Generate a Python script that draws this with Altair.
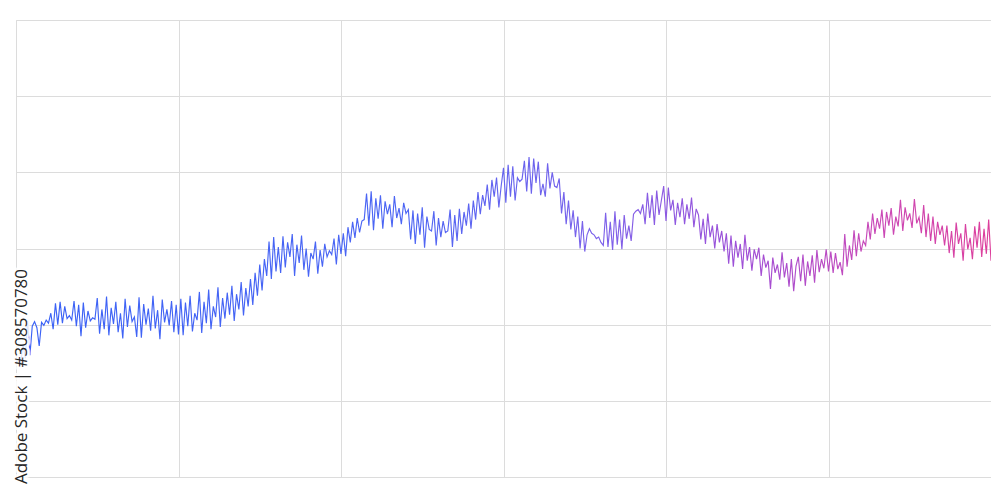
import altair as alt
import pandas as pd

seg_a = [15.0, 15.5, 14.8, 17.5, 15.6, 20.5, 16.0, 19.8, 20.4, 19.6, 17.2, 20.3, 19.9, 20.6, 20.2, 21.5, 19.4, 22.8, 20.0,
         23.0, 20.2, 22.4, 20.8, 21.2, 20.6, 23.1, 19.8, 22.6, 18.5, 22.9, 19.6, 21.8, 20.5, 20.9, 20.7, 23.5, 18.8, 22.0, 19.4,
         23.7, 18.6, 22.2, 20.1, 23.0, 19.0, 21.5, 18.2, 23.4, 19.7, 22.5, 20.4, 21.0, 18.4, 23.6, 18.3, 22.7, 20.0, 22.1, 19.2,
         23.8, 19.5, 21.9, 18.1, 23.3, 20.3, 22.0, 19.9, 23.1, 19.0, 22.6, 18.7]
seg_b = [23.4, 18.6, 22.9, 19.8, 23.8, 19.1, 21.5, 20.6, 24.3, 18.9, 23.0, 20.2, 24.6, 19.4, 22.4, 21.0, 24.9, 19.7, 23.5, 20.8,
         24.2, 21.3, 25.1, 20.5, 24.0, 22.0, 25.6, 21.2, 24.8, 22.4,
         26.0, 22.6, 26.8, 23.8, 27.9, 24.5, 28.6, 26.4, 30.9, 26.0, 31.5,
         27.0, 30.2, 26.8, 31.6, 27.5, 30.8, 28.9, 31.9, 26.4, 30.5, 28.1, 31.7, 27.2, 30.0, 26.3, 29.4, 28.6, 30.9, 26.7, 29.8,
         27.6, 30.6, 28.9, 29.7, 29.2, 31.3, 27.9, 31.8]
seg_c = [29.3, 32.0, 29.0, 32.8, 30.8, 33.5, 31.4, 34.0, 32.1, 33.6, 33.8,
         37.2, 33.0, 37.5, 32.4, 36.6, 33.9, 37.0, 32.6, 36.2, 34.5, 35.8, 32.8, 36.9, 34.0, 35.3, 33.2, 36.0, 34.6, 35.1,
         31.2, 35.0, 30.6, 34.6, 31.8, 35.4, 30.1, 34.2, 32.5, 32.3, 34.9, 30.4, 34.0, 31.5, 33.6, 32.1, 32.3, 35.1, 30.2, 34.4, 31.0,
         35.2, 31.9, 34.8, 33.0, 35.9, 32.6, 36.3, 33.8, 37.4, 34.5, 37.0, 35.6, 38.4, 35.1, 39.0, 36.8, 39.3, 35.4, 38.2]
seg_d = [40.6, 36.0, 41.0, 36.8, 40.8, 36.3, 39.3, 38.8, 39.1, 41.5, 37.5, 42.0, 37.2, 41.8, 38.6, 41.4, 37.0,
         38.5, 36.8, 41.2, 37.9, 40.0, 38.2, 38.0,
         39.2, 34.6, 37.4, 33.2, 36.3, 32.5, 35.0, 31.5, 34.2, 30.0, 33.6, 29.6, 31.8,
         32.6, 32.0, 31.8, 31.3, 31.5, 30.8, 30.4,
         34.7, 30.2, 33.5, 29.8, 34.9, 30.5, 33.8, 29.9, 34.4, 31.3, 33.0, 31.0,
         34.5, 34.9, 35.1, 34.6, 35.8, 33.2, 37.3, 34.0, 37.0, 33.1, 37.6, 34.4, 36.3]
seg_e = [38.2, 33.6, 38.0, 35.0, 36.4, 33.1, 36.0, 34.1, 36.6, 33.2, 35.8, 33.9, 36.7, 32.8, 35.2,
         34.4, 31.2, 33.9, 30.6, 34.6, 31.5, 33.0, 30.0, 33.2, 30.8, 32.3, 29.6, 32.0,
         28.0, 31.7, 27.6, 31.0, 28.8, 30.6, 27.3, 31.8, 28.4, 30.2, 27.1, 29.9, 28.6,
         30.1, 26.4, 29.2, 27.5, 28.4, 24.7, 28.8, 26.8, 27.9, 25.9, 29.5, 26.2, 28.1, 25.0, 28.6, 24.4, 27.7,
         28.9, 25.7, 29.2, 25.1, 28.3, 26.4, 29.1, 25.5, 29.8, 26.9, 28.6, 27.4, 29.9]
seg_f = [27.0, 29.6, 26.8, 29.4, 27.3, 28.2, 26.5,
         31.9, 27.6, 30.4, 28.5, 32.4, 29.0, 32.0, 29.6, 31.0, 30.4, 33.5,
         31.2, 34.6, 31.9, 34.0, 32.6, 35.1, 31.4, 34.8, 33.0, 35.3, 31.8, 34.2, 32.9, 36.4, 32.3, 35.4, 33.7, 34.6,
         32.7, 36.5, 33.3, 34.1, 32.0, 35.7,
         31.5, 34.6, 31.0, 34.2, 30.6, 33.5, 31.8, 33.0, 30.4,
         33.0, 29.4, 32.3, 28.8, 33.4, 30.6, 32.0, 28.4, 33.2, 29.9, 31.4, 28.6, 32.9, 30.1, 33.5, 28.9, 32.6, 29.3, 33.8, 28.4]

values = seg_a + seg_b + seg_c + seg_d + seg_e + seg_f
n = len(values)
df = pd.DataFrame({"t": list(range(n)), "v": values})

x_ticks = [i * (n - 1) / 6 for i in range(7)]
y_ticks = [0, 10, 20, 30, 40, 50, 60]
watermark = ["Adobe Stock | #308570780"]

grid = "#dcdcdc"

line = alt.Chart(df).mark_line(
    strokeWidth=1.15,
    color=alt.Gradient(
        gradient="linear",
        stops=[
            alt.GradientStop(color="#3a62f6", offset=0),
            alt.GradientStop(color="#4d66f4", offset=0.4),
            alt.GradientStop(color="#7d62ea", offset=0.6),
            alt.GradientStop(color="#a04fd6", offset=0.75),
            alt.GradientStop(color="#c949b8", offset=0.88),
            alt.GradientStop(color="#dd3f9c", offset=1),
        ],
        x1=0, x2=1, y1=0, y2=0,
    ),
).encode(
    x=alt.X("t:Q", scale=alt.Scale(domain=[0, n - 1], nice=False),
            axis=alt.Axis(values=x_ticks, labels=False, ticks=False, domain=False, title=None,
                          gridColor=grid, gridWidth=1)),
    y=alt.Y("v:Q", scale=alt.Scale(domain=[0, 60], nice=False),
            axis=alt.Axis(values=y_ticks, labels=False, ticks=False, domain=False, title=None,
                          gridColor=grid, gridWidth=1)),
)

wm_df = pd.DataFrame({"label": watermark})
wm_halo = alt.Chart(wm_df).mark_text(
    angle=270, align="left", baseline="middle", fontSize=17, font="Open Sans",
    color="white", stroke="white", strokeWidth=6, opacity=0.85,
).encode(x=alt.value(6), y=alt.value(464), text="label:N")
wm_text = alt.Chart(wm_df).mark_text(
    angle=270, align="left", baseline="middle", fontSize=17, font="Open Sans",
    color="#262626",
).encode(x=alt.value(6), y=alt.value(464), text="label:N")

chart = alt.layer(line, wm_halo, wm_text).properties(
    width=975, height=457,
    autosize=alt.AutoSizeParams(type="none"),
    padding={"left": 8, "top": 12, "right": 0, "bottom": 20},
    background="white",
).configure_view(stroke=grid, strokeWidth=1)

chart.save("out.html", embed_options={"renderer": "svg", "actions": False})
